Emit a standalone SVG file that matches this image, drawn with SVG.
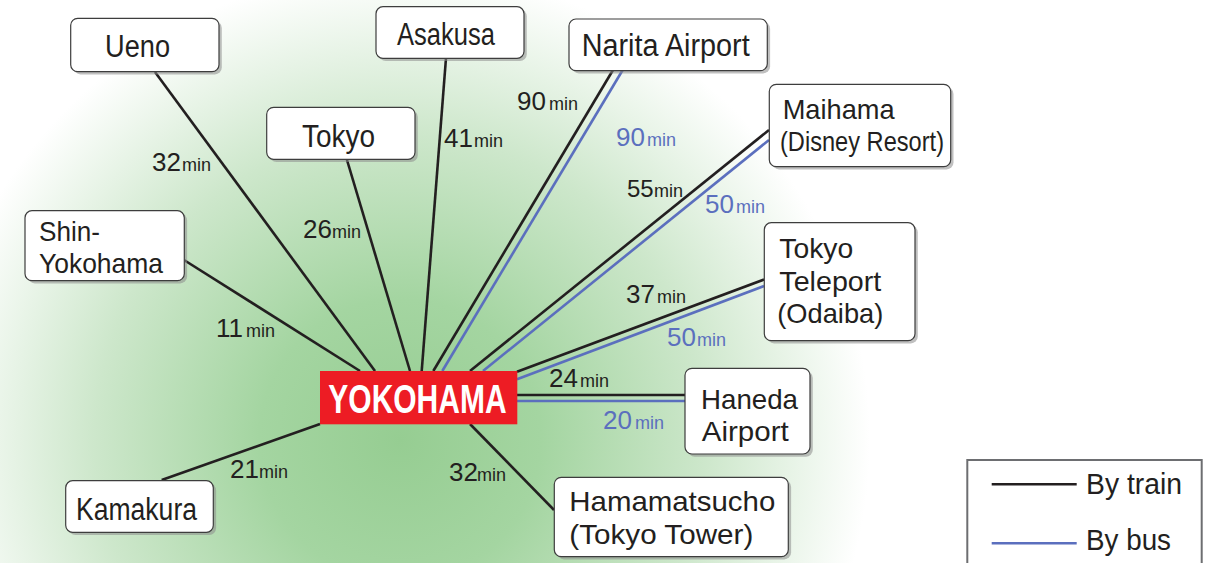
<svg xmlns="http://www.w3.org/2000/svg" width="1214" height="563" viewBox="0 0 1214 563">
<defs>
<radialGradient id="bg" gradientUnits="userSpaceOnUse" cx="400" cy="440" r="470">
<stop offset="0" stop-color="#96cd92"/>
<stop offset="0.3" stop-color="#a4d5a1"/>
<stop offset="0.65" stop-color="#cde7cb"/>
<stop offset="1" stop-color="#ffffff"/>
</radialGradient>
</defs>
<style>
.box{fill:#fff;stroke:#3d3d3d;stroke-width:1.2}
.sh{fill:#8c8c8c;opacity:0.55}
.lbl{font-family:"Liberation Sans",Arial,sans-serif;font-size:31px;fill:#231f20}
.ml{font-size:28px}
.tr{stroke:#231f20;stroke-width:2.6;fill:none}
.bs{stroke:#5b6fbe;stroke-width:2.6;fill:none}
.num{font-family:"Liberation Sans",Arial,sans-serif;font-size:26px;fill:#231f20}
.mn{font-size:18px}
.blue{fill:#5b6fbe}
</style>
<rect x="0" y="0" width="1214" height="563" fill="#fff"/>
<rect x="0" y="0" width="1214" height="563" fill="url(#bg)"/>

<g id="connectors">
<line class="tr" x1="155" y1="72" x2="375" y2="371"/>
<line class="tr" x1="346.7" y1="159" x2="410" y2="371"/>
<line class="tr" x1="446" y1="58" x2="421.7" y2="371"/>
<line class="tr" x1="613" y1="70" x2="433.3" y2="371"/>
<line class="bs" x1="622.7" y1="70" x2="442.3" y2="371"/>
<line class="tr" x1="769" y1="130" x2="470" y2="371"/>
<line class="bs" x1="769" y1="140" x2="483" y2="371"/>
<line class="tr" x1="764" y1="279.5" x2="517" y2="371.7"/>
<line class="bs" x1="764" y1="286" x2="517" y2="379.3"/>
<line class="tr" x1="517" y1="395" x2="685" y2="395"/>
<line class="bs" x1="517" y1="401" x2="685" y2="401"/>
<line class="tr" x1="184" y1="260" x2="360" y2="371"/>
<line class="tr" x1="161.7" y1="480" x2="320" y2="424"/>
<line class="tr" x1="470" y1="424" x2="554" y2="510"/>
</g>

<g id="labels">
<text class="num" x="152" y="171">32<tspan class="mn" x="182">min</tspan></text>
<text class="num" x="303" y="238">26<tspan class="mn" x="332">min</tspan></text>
<text class="num" x="444" y="147">41<tspan class="mn" x="474">min</tspan></text>
<text class="num" x="517" y="110">90<tspan class="mn" x="549">min</tspan></text>
<text class="num blue" x="616" y="146">90<tspan class="mn" x="647">min</tspan></text>
<text class="num" x="627" y="197" style="font-size:24px">55<tspan class="mn" x="654">min</tspan></text>
<text class="num blue" x="705" y="213">50<tspan class="mn" x="736">min</tspan></text>
<text class="num" x="626" y="303">37<tspan class="mn" x="657">min</tspan></text>
<text class="num blue" x="667" y="346">50<tspan class="mn" x="697">min</tspan></text>
<text class="num" x="549" y="387">24<tspan class="mn" x="580">min</tspan></text>
<text class="num blue" x="603" y="429">20<tspan class="mn" x="635">min</tspan></text>
<text class="num" x="216" y="337">11<tspan class="mn" x="246">min</tspan></text>
<text class="num" x="230" y="478">21<tspan class="mn" x="259">min</tspan></text>
<text class="num" x="449" y="481">32<tspan class="mn" x="477">min</tspan></text>
</g>

<g id="node-ueno">
<rect class="sh" x="73.5" y="21" width="148.3" height="53.4" rx="7"/>
<rect class="box" x="70.7" y="18.3" width="148.3" height="53.4" rx="7"/>
<text class="lbl" x="105" y="57" textLength="65" lengthAdjust="spacingAndGlyphs">Ueno</text>
</g>
<g id="node-asakusa">
<rect class="sh" x="378.8" y="9.4" width="148" height="51.6" rx="7"/>
<rect class="box" x="376" y="6.7" width="148" height="51.6" rx="7"/>
<text class="lbl" x="397" y="45" textLength="98" lengthAdjust="spacingAndGlyphs">Asakusa</text>
</g>
<g id="node-narita">
<rect class="sh" x="571.8" y="21.7" width="198.3" height="51.7" rx="7"/>
<rect class="box" x="569" y="19" width="198.3" height="51.7" rx="7"/>
<text class="lbl" x="581.7" y="56" textLength="168" lengthAdjust="spacingAndGlyphs">Narita Airport</text>
</g>
<g id="node-tokyo">
<rect class="sh" x="269.5" y="110" width="148.3" height="52" rx="7"/>
<rect class="box" x="266.7" y="107.3" width="148.3" height="52" rx="7"/>
<text class="lbl" x="302" y="146.7" textLength="73" lengthAdjust="spacingAndGlyphs">Tokyo</text>
</g>
<g id="node-maihama">
<rect class="sh" x="772.1" y="87" width="181.4" height="82.4" rx="7"/>
<rect class="box" x="769.3" y="84.3" width="181.4" height="82.4" rx="7"/>
<text class="lbl ml" x="782.7" y="119" textLength="112" lengthAdjust="spacingAndGlyphs">Maihama</text>
<text class="lbl ml" x="780" y="150.5" textLength="164" lengthAdjust="spacingAndGlyphs">(Disney Resort)</text>
</g>
<g id="node-shin-yokohama">
<rect class="sh" x="27.8" y="213.4" width="159.3" height="70" rx="7"/>
<rect class="box" x="25" y="210.7" width="159.3" height="70" rx="7"/>
<text class="lbl ml" x="39" y="240.5" textLength="61" lengthAdjust="spacingAndGlyphs">Shin-</text>
<text class="lbl ml" x="39" y="272.7" textLength="124" lengthAdjust="spacingAndGlyphs">Yokohama</text>
</g>
<g id="node-teleport">
<rect class="sh" x="767.1" y="225.4" width="150.7" height="118" rx="7"/>
<rect class="box" x="764.3" y="222.7" width="150.7" height="118" rx="7"/>
<text class="lbl ml" x="779.3" y="257.7" textLength="74" lengthAdjust="spacingAndGlyphs">Tokyo</text>
<text class="lbl ml" x="779.3" y="291" textLength="102" lengthAdjust="spacingAndGlyphs">Teleport</text>
<text class="lbl ml" x="777.3" y="323" textLength="106" lengthAdjust="spacingAndGlyphs">(Odaiba)</text>
</g>
<g id="node-haneda">
<rect class="sh" x="687.8" y="371" width="125" height="85.7" rx="7"/>
<rect class="box" x="685" y="368.3" width="125" height="85.7" rx="7"/>
<text class="lbl ml" x="701" y="408.5" textLength="97" lengthAdjust="spacingAndGlyphs">Haneda</text>
<text class="lbl ml" x="701.7" y="441" textLength="87" lengthAdjust="spacingAndGlyphs">Airport</text>
</g>
<g id="node-kamakura">
<rect class="sh" x="68.5" y="483.4" width="147.6" height="51.6" rx="7"/>
<rect class="box" x="65.7" y="480.7" width="147.6" height="51.6" rx="7"/>
<text class="lbl" x="76" y="520" textLength="121" lengthAdjust="spacingAndGlyphs">Kamakura</text>
</g>
<g id="node-hamamatsucho">
<rect class="sh" x="557.1" y="480" width="234" height="79.4" rx="7"/>
<rect class="box" x="554.3" y="477.3" width="234" height="79.4" rx="7"/>
<text class="lbl ml" x="569.3" y="511" textLength="206" lengthAdjust="spacingAndGlyphs">Hamamatsucho</text>
<text class="lbl ml" x="569.3" y="543.5" textLength="184" lengthAdjust="spacingAndGlyphs">(Tokyo Tower)</text>
</g>
<g id="node-yokohama">
<rect x="320" y="371" width="197.3" height="53.3" fill="#ed1c24"/>
<text transform="translate(328.3,412.7) scale(0.75,1)" x="0" y="0" style="font-family:'Liberation Sans',Arial,sans-serif;font-weight:bold;font-size:40px;fill:#fff">YOKOHAMA</text>
</g>

<g id="legend">
<rect x="967.3" y="460" width="234.4" height="120" fill="#fff" stroke="#6d6e71" stroke-width="2"/>
<line class="tr" x1="991.7" y1="484.3" x2="1076.7" y2="484.3"/>
<line class="bs" x1="991.7" y1="543.3" x2="1076.7" y2="543.3"/>
<text class="lbl" x="1086" y="494.3" textLength="96" lengthAdjust="spacingAndGlyphs" style="font-size:29px">By train</text>
<text class="lbl" x="1086" y="550" textLength="85" lengthAdjust="spacingAndGlyphs" style="font-size:29px">By bus</text>
</g>
</svg>
